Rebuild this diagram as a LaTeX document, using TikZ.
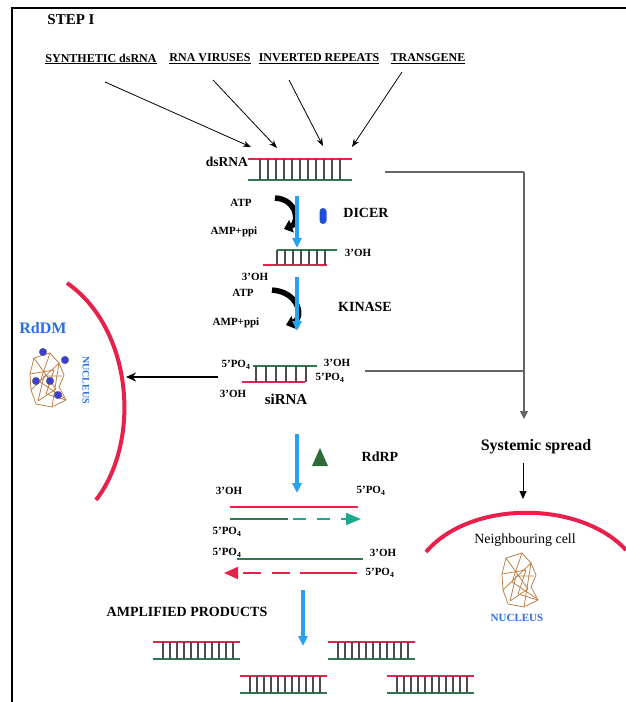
\documentclass[tikz,border=0pt]{standalone}
\usepackage{fontspec}
\setmainfont{Liberation Serif}
\usetikzlibrary{arrows.meta}

\definecolor{rnared}{RGB}{232,32,76}
\definecolor{rnagreen}{RGB}{48,118,78}
\definecolor{newteal}{RGB}{32,168,140}
\definecolor{flowblue}{RGB}{42,160,240}
\definecolor{dicerblue}{RGB}{30,78,210}
\definecolor{txtblue}{RGB}{42,110,228}
\definecolor{chromo}{RGB}{190,128,70}
\definecolor{dotblue}{RGB}{62,62,212}
\definecolor{rdrpgreen}{RGB}{46,106,58}

\tikzset{
  lbl/.style={font=\bfseries\fontsize{11}{11}\selectfont, inner sep=0pt},
  src/.style={font=\bfseries\fontsize{12}{12}\selectfont, inner sep=1pt},
  big/.style={font=\bfseries\fontsize{14}{14}\selectfont, inner sep=0pt},
  huge/.style={font=\bfseries\fontsize{16}{16}\selectfont, inner sep=0pt},
  top/.style={draw=rnared, line width=2pt},
  bot/.style={draw=rnagreen, line width=2pt},
  rung/.style={draw=black!70, line width=1.1pt},
  feed/.style={-{Stealth[length=8pt,width=6pt]}, line width=0.8pt},
  flow/.style={draw=flowblue, line width=3.6pt, -{Triangle[length=10pt,width=9pt]}},
  turn/.style={line width=5.5pt, -{Triangle[length=8pt,width=13pt]}},
  spread/.style={draw=black!60, line width=1.2pt},
  membrane/.style={draw=rnared, line width=4pt},
  tangle/.style={draw=chromo, line width=0.8pt, line join=round},
  chromatin/.pic={
    \draw[tangle] (-14,-22) -- (2,-27) -- (11,-17) -- (16,-5) -- (11,7) -- (18,20)
      -- (4,27) -- (-12,24) -- (-17,10) -- (-18,-6) -- cycle;
    \draw[tangle] (-14,-22) -- (8,9) -- (-10,21) -- (-4,-4) -- (14,-4);
    \draw[tangle] (2,-27) -- (-8,2) -- (16,18) (-17,10) -- (11,-17) -- (4,27);
    \draw[tangle] (-18,-6) -- (6,-10) -- (-2,14) -- (18,20);
  }
}

% rungs between the two strands of a duplex
\newcommand{\rungs}[3]{\foreach \x in {#1} \draw[rung] (\x,#2) -- (\x,#3);}

\begin{document}
\begin{tikzpicture}[x=1pt, y=-1pt]
  \useasboundingbox (0,0) rectangle (626,702);
  \draw[line width=2pt] (12,702) -- (12,8) -- (626,8);

  \node[huge, font=\bfseries\fontsize{15}{15}\selectfont] (step) at (71,20) {STEP I};

  % sources of dsRNA
  \node[src] (syn) at (101,59) {\underline{SYNTHETIC dsRNA}};
  \node[src] (vir) at (210,59) {\underline{RNA VIRUSES}};
  \node[src] (inv) at (319,59) {\underline{INVERTED REPEATS}};
  \node[src] (gene) at (428,59) {\underline{TRANSGENE}};
  \coordinate (s1) at (105,82);  \coordinate (e1) at (251,147);
  \coordinate (s2) at (213,80);  \coordinate (e2) at (277,148);
  \coordinate (s3) at (289,80);  \coordinate (e3) at (323,146);
  \coordinate (s4) at (402,72);  \coordinate (e4) at (352,147);
  \draw[feed] (s1) -- (e1);
  \draw[feed] (s2) -- (e2);
  \draw[feed] (s3) -- (e3);
  \draw[feed] (s4) -- (e4);

  % long dsRNA
  \node[big, anchor=east, font=\bfseries\fontsize{13.5}{13.5}\selectfont] (ds) at (248,162) {dsRNA};
  \draw[top] (248,159) -- (352,159);
  \draw[bot] (248,180) -- (352,180);
  \rungs{260,268,...,340}{159}{180}

  % dicing
  \node[lbl] (atp1) at (241,203) {ATP};
  \node[lbl] (amp1) at (234,232) {AMP+ppi};
  \draw[turn] (275,198) .. controls (297,199) and (300,223) .. (284,229);
  \coordinate (d0) at (297,196); \coordinate (d1) at (297,248);
  \draw[flow] (d0) -- (d1);
  \node[fill=dicerblue, rounded corners=3.5pt, minimum width=7pt, minimum height=16pt,
    inner sep=0pt] (dicer) at (323,216) {};
  \node[big] (dicerlbl) at (366,213) {DICER};

  \draw[bot] (277,250) -- (337,250);
  \draw[top] (263,265) -- (327,265);
  \rungs{277,285,...,325}{250}{265}
  \node[lbl] (oh1) at (358,253) {3’OH};
  \node[lbl] (oh2) at (255,277) {3’OH};

  % phosphorylation
  \node[lbl] (atp2) at (243,293) {ATP};
  \node[lbl] (amp2) at (236,323) {AMP+ppi};
  \draw[turn] (272,290) .. controls (300,292) and (304,319) .. (286,325);
  \coordinate (k0) at (297,277); \coordinate (k1) at (297,331);
  \draw[flow] (k0) -- (k1);
  \node[big] (kinase) at (365,307) {KINASE};

  % siRNA
  \draw[bot] (253,366) -- (317,366);
  \draw[top] (242,382) -- (305,382);
  \rungs{256,266,...,306}{366}{382}
  \node[lbl] (po1) at (236,365) {5’PO\textsubscript{4}};
  \node[lbl] (oh3) at (337,363) {3’OH};
  \node[lbl] (po2) at (330,378) {5’PO\textsubscript{4}};
  \node[lbl] (oh4) at (233,394) {3’OH};
  \node[huge, font=\bfseries\fontsize{15}{15}\selectfont] (si) at (286,399) {siRNA};

  % towards the nucleus (RdDM)
  \draw[membrane] (67,283) .. controls (132,328) and (142,440) .. (96,500);
  \coordinate (r0) at (218,377); \coordinate (r1) at (126,377);
  \draw[line width=2pt, -{Stealth[length=10pt,width=9pt]}] (r0) -- (r1);
  \node[huge, text=txtblue] (rddm) at (43,328) {RdDM};
  \pic at (48,380) {chromatin};
  \foreach \p in {(43,352),(65,360),(36,381),(50,381),(58,395)}
    \draw[fill=dotblue, draw=black!60, line width=0.4pt] \p circle (3.8);
  \node[lbl, text=txtblue, rotate=-90, font=\bfseries\fontsize{10}{10}\selectfont] (nuc1) at (86,380) {NUCLEUS};

  % systemic spread
  \coordinate (a0) at (385,172); \coordinate (a1) at (524,172);
  \coordinate (a2) at (365,371); \coordinate (a3) at (524,371);
  \coordinate (a4) at (524,419);
  \draw[spread] (a0) -- (a1);
  \draw[spread] (a2) -- (a3);
  \draw[spread, -{Triangle[length=8pt,width=8pt]}] (a1) -- (a4);
  \node[huge] (sys) at (536,447) {Systemic spread};
  \coordinate (b0) at (523,463); \coordinate (b1) at (523,499);
  \draw[line width=0.9pt, -{Triangle[length=8pt,width=7pt]}] (b0) -- (b1);
  \draw[membrane] (426,552) .. controls (470,500) and (580,500) .. (626,550);
  \node[font=\fontsize{14}{14}\selectfont, inner sep=0pt] (neigh) at (525,540) {Neighbouring cell};
  \pic at (520,580) {chromatin};
  \node[lbl, text=txtblue, font=\bfseries\fontsize{11}{11}\selectfont] (nuc2) at (517,618) {NUCLEUS};

  % amplification by RdRP
  \coordinate (p0) at (297,434); \coordinate (p1) at (297,493);
  \draw[flow] (p0) -- (p1);
  \fill[rdrpgreen] (312,466) -- (320,448) -- (328,466) -- cycle;
  \node[big] (rdrp) at (380,457) {RdRP};

  \node[lbl] (oh5) at (229,491) {3’OH};
  \node[lbl] (po3) at (371,491) {5’PO\textsubscript{4}};
  \draw[top] (230,507) -- (358,507);
  \draw[bot] (230,519) -- (288,519);
  \draw[draw=newteal, line width=2pt, dash pattern=on 13pt off 11pt,
    -{Triangle[length=15pt,width=12pt]}] (293,519) -- (361,519);
  \node[lbl] (po4) at (227,532) {5’PO\textsubscript{4}};

  \node[lbl] (po5) at (227,553) {5’PO\textsubscript{4}};
  \node[lbl] (oh6) at (383,553) {3’OH};
  \draw[bot] (237,559) -- (363,559);
  \draw[top] (300,573) -- (357,573);
  \draw[draw=rnared, line width=2pt, dash pattern=on 18pt off 11pt,
    -{Triangle[length=14pt,width=12pt]}] (290,573) -- (224,573);
  \node[lbl] (po6) at (380,573) {5’PO\textsubscript{4}};

  % amplified products
  \node[big] (amp) at (187,612) {AMPLIFIED PRODUCTS};
  \coordinate (q0) at (303,590); \coordinate (q1) at (303,646);
  \draw[flow] (q0) -- (q1);
  \foreach \x/\y in {153/642, 328/642, 240/676, 387/676} {
    \draw[top] (\x,\y) -- (\x+87,\y);
    \draw[bot] (\x,\y+17) -- (\x+87,\y+17);
    \foreach \r in {0,...,10} \draw[rung] (\x+10+7*\r,\y) -- (\x+10+7*\r,\y+17);
  }
\end{tikzpicture}
\end{document}
